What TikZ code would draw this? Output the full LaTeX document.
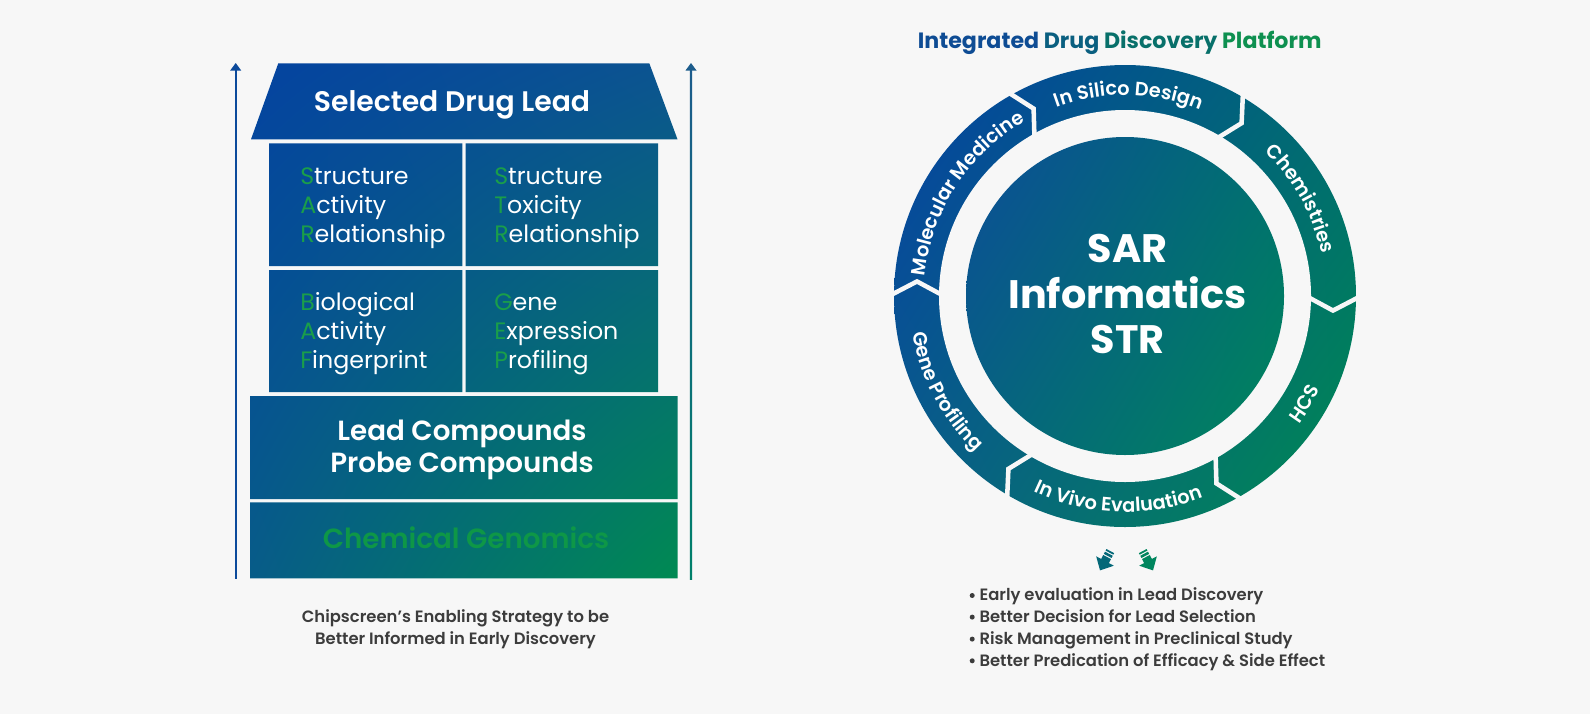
\documentclass[tikz,border=0pt]{standalone}
\usepackage{fontspec}
\setmainfont{Poppins}
\newfontfamily\psemi{Poppins SemiBold}
\usetikzlibrary{decorations.text,shadings}
\definecolor{bgc}{HTML}{F7F7F7}
\definecolor{gtxt}{HTML}{3C3C3C}
\definecolor{ltr}{HTML}{1A9E4A}
\definecolor{chemg}{HTML}{0E9747}
\definecolor{tA}{HTML}{0E4C94}
\definecolor{tB}{HTML}{0A5F80}
\definecolor{tC}{HTML}{08706A}
\definecolor{tD}{HTML}{0E9050}
\definecolor{L1}{HTML}{0443A0}
\definecolor{L2}{HTML}{0C5490}
\definecolor{L3}{HTML}{075C88}
\definecolor{L4}{HTML}{008A52}
\definecolor{R1}{HTML}{0541A3}
\definecolor{R2}{HTML}{006A72}
\definecolor{R3}{HTML}{0A5E88}
\definecolor{R4}{HTML}{008A50}
\definecolor{C1}{HTML}{0C4D98}
\definecolor{C2}{HTML}{006F70}
\definecolor{C3}{HTML}{066380}
\definecolor{C4}{HTML}{00865A}
\definecolor{arrL}{HTML}{0C4A9B}
\definecolor{arrRt}{HTML}{1C5C8C}
\definecolor{arrRb}{HTML}{00806A}
\definecolor{dnA}{HTML}{046878}
\definecolor{dnB}{HTML}{00865E}
\newcommand{\gl}[1]{\textcolor{ltr}{#1}}
\newcommand{\ringfont}{\psemi\fontsize{14.5pt}{17pt}\selectfont}
\tikzset{
  gridtxt/.style={anchor=base west, inner sep=0, text=white, font=\fontsize{17.8pt}{21pt}\selectfont},
  bigtxt/.style={anchor=base, inner sep=0, text=white, font=\psemi\fontsize{20.8pt}{24pt}\selectfont},
  captxt/.style={anchor=base, inner sep=0, text=gtxt, font=\psemi\fontsize{12.3pt}{15pt}\selectfont},
  bultxt/.style={anchor=base west, inner sep=0, text=gtxt, font=\psemi\fontsize{12.3pt}{15pt}\selectfont},
  sartxt/.style={anchor=base, inner sep=0, text=white, font=\bfseries\fontsize{29.8pt}{34pt}\selectfont},
  gapline/.style={draw=bgc, line width=3.4pt, line join=miter},
  ringlabel/.style={decorate, decoration={text along path, text align=center, text color=white, text={|\ringfont|#1}}},
}
\begin{document}
\begin{tikzpicture}[x=0.75pt,y=-0.75pt]
\useasboundingbox (0,0) rectangle (1590,714);
\fill[bgc] (0,0) rectangle (1590,714);
% ---------- left: house ----------
\begin{scope}
\clip (278.3,63.3) -- (649.3,63.3) -- (677.5,139.3) -- (251,139.3) -- cycle
 (269,143.3) rectangle (462.3,266)
 (465.7,143.3) rectangle (658,266)
 (269,270) rectangle (462.3,392)
 (465.7,270) rectangle (658,392)
 (250,396) rectangle (677.7,499)
 (250,502.3) rectangle (677.7,578.3);
\shade[upper left=L1, upper right=L2, lower left=L3, lower right=L4] (250,63) rectangle (678,579);
\end{scope}
% side arrows
\coordinate (lab) at (235.7,579); \coordinate (lat) at (235.7,63);
\coordinate (rab) at (691,579); \coordinate (rat) at (691,63);
\fill[arrL] (234.5,579) rectangle (236.9,69);
\fill[arrL] (230.2,70.5) -- (lat) -- (241.2,70.5) -- cycle;
\shade[top color=arrRt, bottom color=arrRb] (689.8,69) rectangle (692.2,579);
\fill[arrRt] (685.5,70.5) -- (rat) -- (696.5,70.5) -- cycle;
% texts
\node[anchor=base, inner sep=0, text=white, font=\psemi\fontsize{21.2pt}{25pt}\selectfont] (sdl) at (452,111) {Selected Drug Lead};
\node[gridtxt] (s1) at (300,184) {\gl{S}tructure};
\node[gridtxt] (s2) at (300,213) {\gl{A}ctivity};
\node[gridtxt] (s3) at (300,242) {\gl{R}elationship};
\node[gridtxt] (t1) at (494,184) {\gl{S}tructure};
\node[gridtxt] (t2) at (494,213) {\gl{T}oxicity};
\node[gridtxt] (t3) at (494,242) {\gl{R}elationship};
\node[gridtxt] (b1) at (300,310) {\gl{B}iological};
\node[gridtxt] (b2) at (300,339) {\gl{A}ctivity};
\node[gridtxt] (b3) at (300,368) {\gl{F}ingerprint};
\node[gridtxt] (g1) at (494,310) {\gl{G}ene};
\node[gridtxt] (g2) at (494,339) {\gl{E}xpression};
\node[gridtxt] (g3) at (494,368) {\gl{P}rofiling};
\node[bigtxt] (lc) at (462,440) {Lead Compounds};
\node[bigtxt] (pc) at (462,472) {Probe Compounds};
\node[bigtxt, text=chemg] (cg) at (466,548) {Chemical Genomics};
\node[captxt] (cap1) at (455.5,622.3) {Chipscreen’s Enabling Strategy to be};
\node[captxt] (cap2) at (455.5,644) {Better Informed in Early Discovery};
% ---------- right: platform ----------
\node[anchor=base, inner sep=0, font=\bfseries\fontsize{16.6pt}{19pt}\selectfont] (title) at (1119.7,48.3)
  {\textcolor{tA}{Integrated} \textcolor{tB}{Drug} \textcolor{tC}{Discovery} \textcolor{tD}{Platform}};
\begin{scope}[shift={(1125,296)}, y=0.75pt]
\shade[upper left=R1, upper right=R2, lower left=R3, lower right=R4] (0,0) circle (231);
\fill[bgc] (0,0) circle (186);
\shade[upper left=C1, upper right=C2, lower left=C3, lower right=C4] (0,0) circle (159);
\foreach \a in {180,120,60,0,-60,-120}
  \draw[gapline] (\a:236) -- (\a-4:208.5) -- (\a:181);
\path[ringlabel={Molecular Medicine}] (180:201) arc[start angle=180, end angle=114, radius=201];
\path[ringlabel={In Silico Design}] (122:201) arc[start angle=122, end angle=56, radius=201];
\path[ringlabel={Chemistries}] (62:201) arc[start angle=62, end angle=-4, radius=201];
\path[ringlabel={HCS}] (-64:216) arc[start angle=-64, end angle=2, radius=216];
\path[ringlabel={In Vivo Evaluation}] (-125:216) arc[start angle=-125, end angle=-59, radius=216];
\path[ringlabel={Gene Profiling}] (175:216) arc[start angle=175, end angle=241, radius=216];
\end{scope}
\node[sartxt] (sar) at (1127.5,262) {SAR};
\node[sartxt] (inf) at (1127.5,308) {Informatics};
\node[sartxt] (str) at (1127.5,353) {STR};
% small down arrows
\begin{scope}[shift={(1105,561)}, rotate=-28, scale=1.25]
\fill[dnA] (-3.5,-9) rectangle (3.5,-7.6);
\fill[dnA] (-3.5,-6.6) rectangle (3.5,-4.6);
\fill[dnA] (-3.5,-3.6) rectangle (3.5,0.5);
\fill[dnA] (-8,0) -- (8,0) -- (0,8.5) -- cycle;
\end{scope}
\begin{scope}[shift={(1148,561)}, rotate=28, scale=1.25]
\fill[dnB] (-3.5,-9) rectangle (3.5,-7.6);
\fill[dnB] (-3.5,-6.6) rectangle (3.5,-4.6);
\fill[dnB] (-3.5,-3.6) rectangle (3.5,0.5);
\fill[dnB] (-8,0) -- (8,0) -- (0,8.5) -- cycle;
\end{scope}
% bullets
\fill[gtxt] (972.2,595.5) circle (2.5);
\fill[gtxt] (972.2,617.1) circle (2.5);
\fill[gtxt] (972.2,639.1) circle (2.5);
\fill[gtxt] (972.2,660.8) circle (2.5);
\node[bultxt] (u1) at (979.3,600.7) {Early evaluation in Lead Discovery};
\node[bultxt] (u2) at (979.3,622.3) {Better Decision for Lead Selection};
\node[bultxt] (u3) at (979.3,644.3) {Risk Management in Preclinical Study};
\node[bultxt] (u4) at (979.3,666) {Better Predication of Efficacy \& Side Effect};
\end{tikzpicture}
\end{document}
